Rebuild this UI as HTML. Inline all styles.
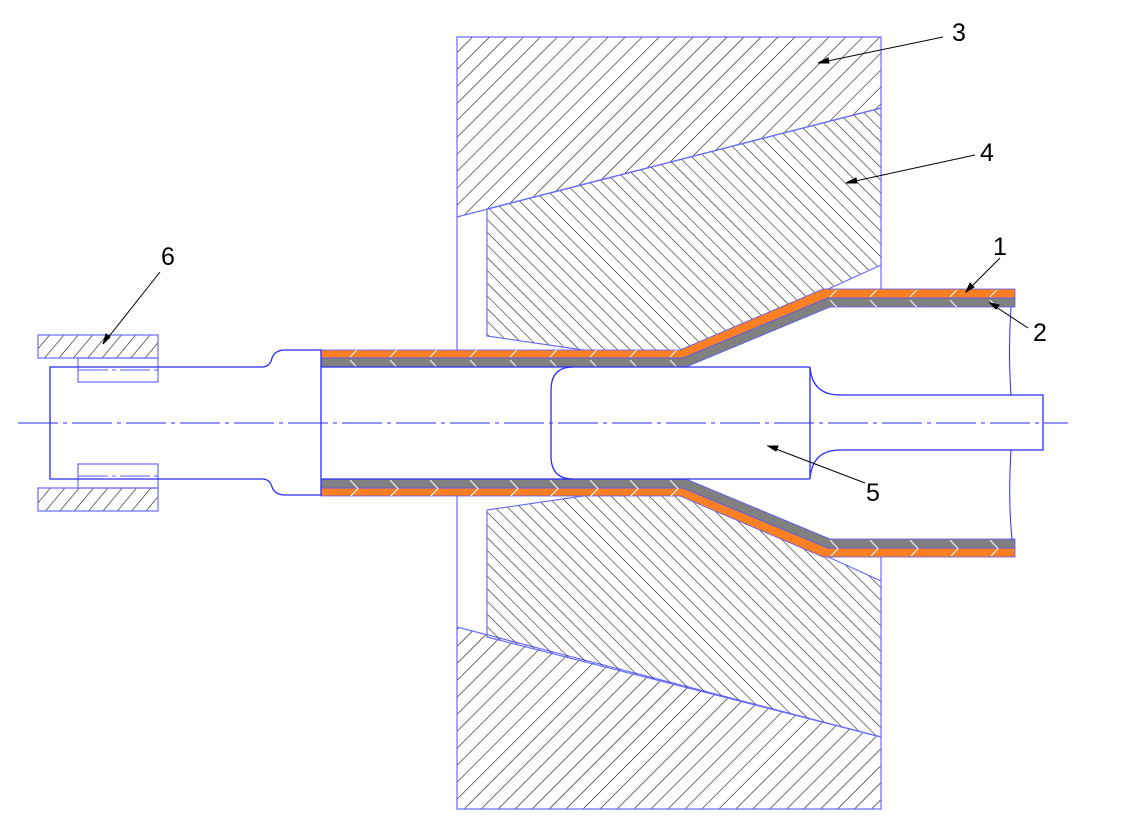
<!DOCTYPE html>
<html><head><meta charset="utf-8"><style>html,body{margin:0;padding:0;background:#fff}svg{display:block}</style></head>
<body>
<svg width="1131" height="836" viewBox="0 0 1131 836" xmlns="http://www.w3.org/2000/svg" font-family="Liberation Sans, sans-serif">
<defs>
<pattern id="h3" width="12" height="12" patternUnits="userSpaceOnUse" patternTransform="rotate(45)"><line x1="0" y1="0" x2="0" y2="12" stroke="#111" stroke-width="1.2"/></pattern>
<pattern id="h4" width="9" height="9" patternUnits="userSpaceOnUse" patternTransform="rotate(-45)"><line x1="0" y1="0" x2="0" y2="9" stroke="#111" stroke-width="1.1"/></pattern>
<pattern id="hc" width="11" height="11" patternUnits="userSpaceOnUse" patternTransform="rotate(40)"><line x1="0" y1="0" x2="0" y2="11" stroke="#111" stroke-width="1.2"/></pattern>
<pattern id="chev" width="40" height="20" patternUnits="userSpaceOnUse"><polyline points="30,0 38,8.5 30,17" fill="none" stroke="#fff" stroke-width="1"/></pattern>
</defs>
<g stroke="#6a6aff" stroke-width="1.2">
<polygon points="457,37 881,37 881,108 457,217" fill="url(#h3)"/>
<polygon points="487,209 881,108 881,265 826,290 680,351 590,351 487,336" fill="url(#h4)"/>
<polygon points="457,809 881,809 881,737 457,627" fill="url(#h3)"/>
<polygon points="487,637 881,737 881,581 826,556 680,495 590,495 487,510" fill="url(#h4)"/>
<line x1="457" y1="217" x2="457" y2="351"/>
<line x1="457" y1="495" x2="457" y2="627"/>
<line x1="881" y1="265" x2="881" y2="292"/>
<line x1="881" y1="556" x2="881" y2="581"/>
<rect x="38" y="335" width="120" height="23" fill="url(#hc)"/>
<rect x="78" y="358" width="80" height="24" fill="none"/>
<rect x="38" y="488" width="120" height="23" fill="url(#hc)"/>
<rect x="78" y="464" width="80" height="24" fill="none"/>
</g>
<g stroke="#5555ff" stroke-width="0.8">
<polygon points="321,350 680,350 823,289 1015,289 1015,298 828,298 683,358 321,358" fill="#fb8024"/>
<polygon points="321,358 683,358 828,298 1015,298 1015,307 830,307 686,367 321,367" fill="#808080"/>
<polygon points="321,496 680,496 823,557 1015,557 1015,548 828,548 683,488 321,488" fill="#fb8024"/>
<polygon points="321,488 683,488 828,548 1015,548 1015,539 830,539 686,479 321,479" fill="#808080"/>
</g>
<g fill="url(#chev)" stroke="none">
<rect x="321" y="350" width="360" height="17"/>
<rect x="825" y="290" width="190" height="17"/>
<rect x="321" y="479" width="360" height="17"/>
<rect x="825" y="539" width="190" height="17"/>
</g>
<g fill="none" stroke="#2a2aff" stroke-width="1.3">
<path d="M50,367 H262 Q270,367 272,358 Q275,350 285,350 H321 V495 H285 Q275,495 272,487 Q270,479 262,479 H50 Z"/>
<line x1="321" y1="367" x2="810" y2="367"/>
<line x1="321" y1="479" x2="810" y2="479"/>
<path d="M573,367 Q551,367 551,390 V456 Q551,479 573,479"/>
<path d="M810,367 V479 M810,367 Q812,395 840,395 H1043 V450 H840 Q812,450 810,479"/>
<path d="M1011,307 Q1008,350 1011,395 M1011,450 Q1008,500 1012,539" stroke-width="1"/>
<line x1="18" y1="423" x2="1068" y2="423" stroke-dasharray="40,5,4,5" stroke-width="1"/>
</g>
<g fill="none" stroke="#2a2aff" stroke-width="0.8" stroke-dasharray="30,4,4,4">
<line x1="78" y1="370" x2="158" y2="370"/><line x1="78" y1="476" x2="158" y2="476"/>
</g>
<g stroke="#000" stroke-width="1" fill="#000">
<line x1="943" y1="37" x2="818" y2="63"/><polygon points="818,63 828,58 829,63"/>
<line x1="975" y1="155" x2="846" y2="183"/><polygon points="846,183 856,178 857,183"/>
<line x1="1000" y1="258" x2="966" y2="292"/><polygon points="966,292 970,283 974,287"/>
<line x1="1028" y1="328" x2="990" y2="303"/><polygon points="990,303 999,305 996,309"/>
<line x1="865" y1="483" x2="768" y2="446"/><polygon points="768,446 778,446 776,451"/>
<line x1="160" y1="272" x2="103" y2="344"/><polygon points="103,344 106,334 110,337"/>
</g>
<g font-size="25" fill="#000">
<text x="952" y="41">3</text>
<text x="980" y="161">4</text>
<text x="993" y="255">1</text>
<text x="1033" y="341">2</text>
<text x="866" y="501">5</text>
<text x="161" y="265">6</text>
</g>
</svg>
</body></html>
